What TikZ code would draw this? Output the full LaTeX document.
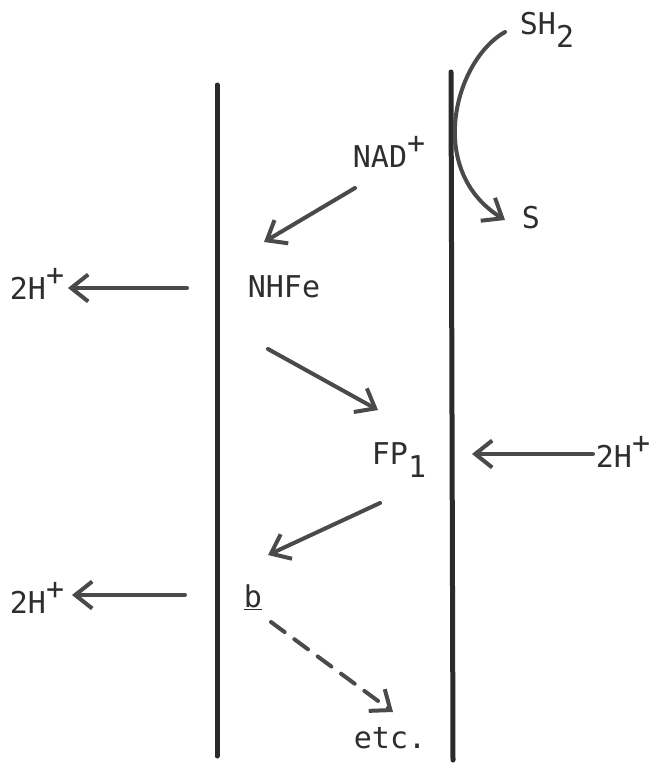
\documentclass[tikz,border=0pt]{standalone}
\usepackage{fontspec}
\setmonofont{DejaVu Sans Mono}
\usetikzlibrary{arrows.meta}
\definecolor{ink}{HTML}{2E2E2E}
\definecolor{wall}{HTML}{2A2A2A}
\definecolor{flow}{HTML}{4A4A4A}
% typewriter-style lowered / raised characters at full size
\newcommand{\lo}[1]{\raisebox{-0.45em}{#1}}
\newcommand{\hi}[1]{\raisebox{0.45em}{#1}}
\begin{document}
\begin{tikzpicture}[x=1pt,y=-1pt,
  lbl/.style={inner sep=0pt,text=ink,font=\ttfamily\fontsize{30}{30}\selectfont},
  membrane/.style={draw=wall,line width=5pt,line cap=round},
  flowarrow/.style={draw=flow,line width=4pt,line cap=round,
    -{Straight Barb[length=17pt,width=27pt]}},
  dashedarrow/.style={flowarrow,dash pattern=on 17pt off 12pt}]
\useasboundingbox (0,0) rectangle (654,763);

% membranes
\coordinate (mLtop) at (217,85);
\coordinate (mLbot) at (217,756);
\coordinate (mRtop) at (451,72);
\coordinate (mRbot) at (453,760);
\draw[membrane] (mLtop) -- (mLbot);
\draw[membrane] (mRtop) -- (mRbot);

% labels
\node[lbl] (sh2) at (547,30) {SH\lo{2}};
\node[lbl] (s) at (531,218) {S};
\node[lbl] (nad) at (389,152) {NAD\hi{+}};
\node[lbl] (nhfe) at (284,287) {NHFe};
\node[lbl] (fp) at (399,460) {FP\lo{1}};
\node[lbl] (b) at (253,597) {\underline{b}};
\node[lbl] (etc) at (390,738) {etc.};
\node[lbl] (hLa) at (37,284) {2H\hi{+}};
\node[lbl] (hR) at (623,452) {2H\hi{+}};
\node[lbl] (hLb) at (37,598) {2H\hi{+}};

% arrow end points
\coordinate (c1s) at (505,32);
\coordinate (c1e) at (505,220);
\coordinate (a1s) at (355,188);
\coordinate (a1e) at (264,242);
\coordinate (a2s) at (268,349);
\coordinate (a2e) at (378,410);
\coordinate (a3s) at (380,503);
\coordinate (a3e) at (268,555);
\coordinate (a4s) at (271,622);
\coordinate (a4e) at (393,712);
\coordinate (h1s) at (187,288);
\coordinate (h1e) at (68,288);
\coordinate (h2s) at (593,454);
\coordinate (h2e) at (472,454);
\coordinate (h3s) at (185,595);
\coordinate (h3e) at (72,595);

% oxidation of SH2 across the outer membrane
\draw[flowarrow] (c1s) .. controls (455,60) and (425,170) .. (c1e);

% electron flow
\draw[flowarrow] (a1s) -- (a1e);
\draw[flowarrow] (a2s) -- (a2e);
\draw[flowarrow] (a3s) -- (a3e);
\draw[dashedarrow] (a4s) -- (a4e);

% proton movements
\draw[flowarrow] (h1s) -- (h1e);
\draw[flowarrow] (h2s) -- (h2e);
\draw[flowarrow] (h3s) -- (h3e);
\end{tikzpicture}
\end{document}
